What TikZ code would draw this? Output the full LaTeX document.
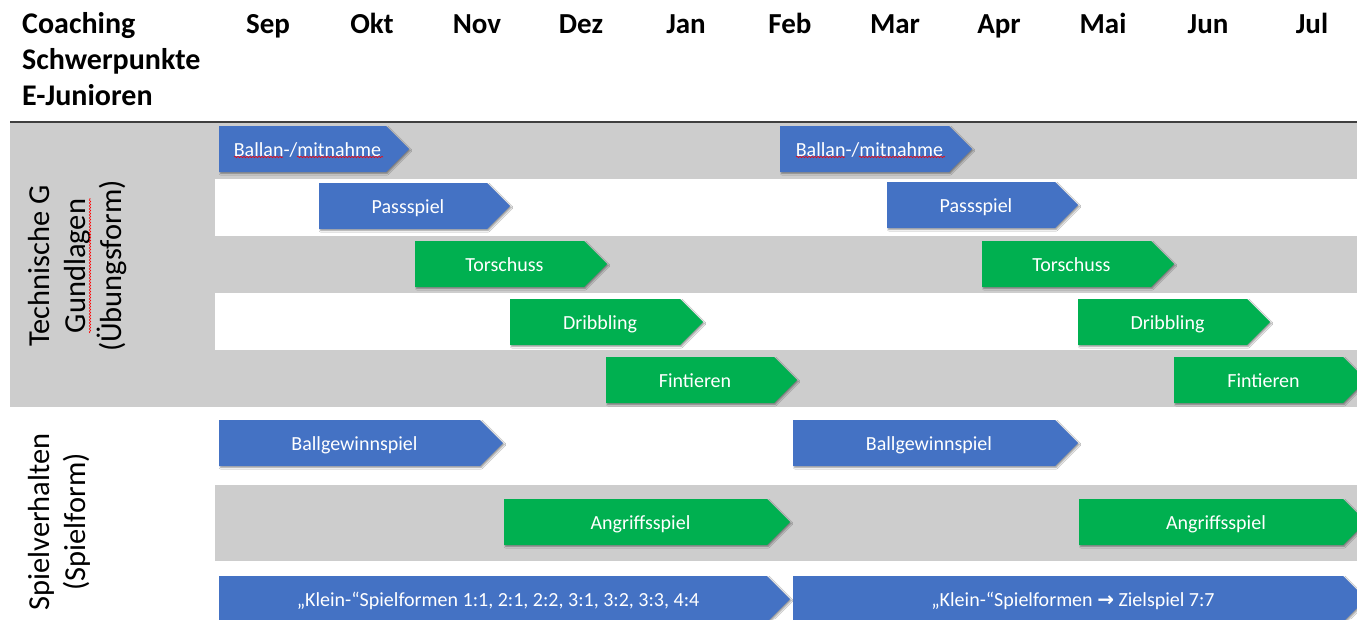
\documentclass[tikz,border=0pt]{standalone}
\usepackage{fontspec}
\setmainfont{Carlito}
\newfontfamily\symf{DejaVu Sans}
\usetikzlibrary{shadows.blur,decorations.pathmorphing}
\definecolor{cblue}{HTML}{4472C4}
\definecolor{cgreen}{HTML}{00B050}
\definecolor{cgray}{HTML}{CDCDCD}
\definecolor{cline}{HTML}{3F3F3F}
\newcommand\chevarrow[6]{%
  \fill[#5,shad] (#2,#4) -- ({#3-23},#4) -- (#3,{#4+23}) -- ({#3-23},{#4+46}) -- (#2,{#4+46}) -- cycle;
  \node[lbl] (#1) at ({(#2+#3-23)/2+5},{#4+30}) {#6};
}
\begin{document}
\begin{tikzpicture}[x=1pt,y=-1pt,
  lbl/.style={text=white,font=\fontsize{20}{24}\selectfont,inner sep=0,anchor=base},
  mon/.style={font=\fontsize{29}{34}\selectfont\bfseries,anchor=base,inner sep=0},
  hd/.style={font=\fontsize{30}{34}\selectfont\bfseries,anchor=base west,inner sep=0},
  side/.style={font=\fontsize{30.5}{36}\selectfont,align=center,rotate=90,inner sep=0},
  shad/.style={blur shadow={shadow xshift=1.5pt,shadow yshift=-1.5pt,shadow blur radius=1.5pt,shadow opacity=40}},
  squig/.style={draw=red,decorate,decoration={snake,segment length=3pt,amplitude=0.7pt},line width=0.6pt}
]
\clip (0,0) rectangle (1357,619);
\fill[white] (0,0) rectangle (1357,619);
% backgrounds
\fill[cgray] (10,122) rectangle (1357,407);
\fill[white] (215,179) rectangle (1357,236);
\fill[white] (215,293) rectangle (1357,350);
\fill[cgray] (215,485) rectangle (1357,561);
\draw[cline,line width=1.5pt] (10,122) -- (1357,122);
% header
\node[hd] (h1) at (22,33) {Coaching};
\node[hd] (h2) at (22,69) {Schwerpunkte};
\node[hd] (h3) at (22,105) {E-Junioren};
\foreach \m/\x in {Sep/268,Okt/372,Nov/477,Dez/581,Jan/686,Feb/790,Mar/895,Apr/999,Mai/1103,Jun/1208,Jul/1312}
  \node[mon] (m\m) at (\x,33) {\m};
% side labels
\node[side] (s1) at (78,266) {Technische G\\Gundlagen\\(Übungsform)};
\node[side] (s2) at (59,522) {Spielverhalten\\(Spielform)};
% arrows
\chevarrow{a1}{219}{409}{126}{cblue}{Ballan-/mitnahme}
\chevarrow{a2}{780}{972}{126}{cblue}{Ballan-/mitnahme}
\chevarrow{b1}{319}{510}{183}{cblue}{Passspiel}
\chevarrow{b2}{887}{1078}{182}{cblue}{Passspiel}
\chevarrow{c1}{415}{607}{241}{cgreen}{Torschuss}
\chevarrow{c2}{982}{1174}{241}{cgreen}{Torschuss}
\chevarrow{d1}{510}{703}{299}{cgreen}{Dribbling}
\chevarrow{d2}{1078}{1270}{299}{cgreen}{Dribbling}
\chevarrow{e1}{606}{797}{357}{cgreen}{Fintieren}
\chevarrow{e2}{1174}{1366}{357}{cgreen}{Fintieren}
\chevarrow{f1}{219}{503}{420}{cblue}{Ballgewinnspiel}
\chevarrow{f2}{793}{1078}{420}{cblue}{Ballgewinnspiel}
\chevarrow{g1}{504}{790}{499}{cgreen}{Angriffsspiel}
\chevarrow{g2}{1079}{1366}{499}{cgreen}{Angriffsspiel}
\chevarrow{k1}{219}{790}{576}{cblue}{„Klein-“Spielformen 1:1, 2:1, 2:2, 3:1, 3:2, 3:3, 4:4}
\chevarrow{k2}{793}{1366}{576}{cblue}{„Klein-“Spielformen {\symf\bfseries →} Zielspiel 7:7}
% spell-check marks
\draw[squig] (234,157) -- (283,157);
\draw[squig] (297,157) -- (383,157);
\draw[squig] (796,157) -- (845,157);
\draw[squig] (859,157) -- (945,157);
\draw[squig] (90,333) -- (90,198);
\end{tikzpicture}
\end{document}
